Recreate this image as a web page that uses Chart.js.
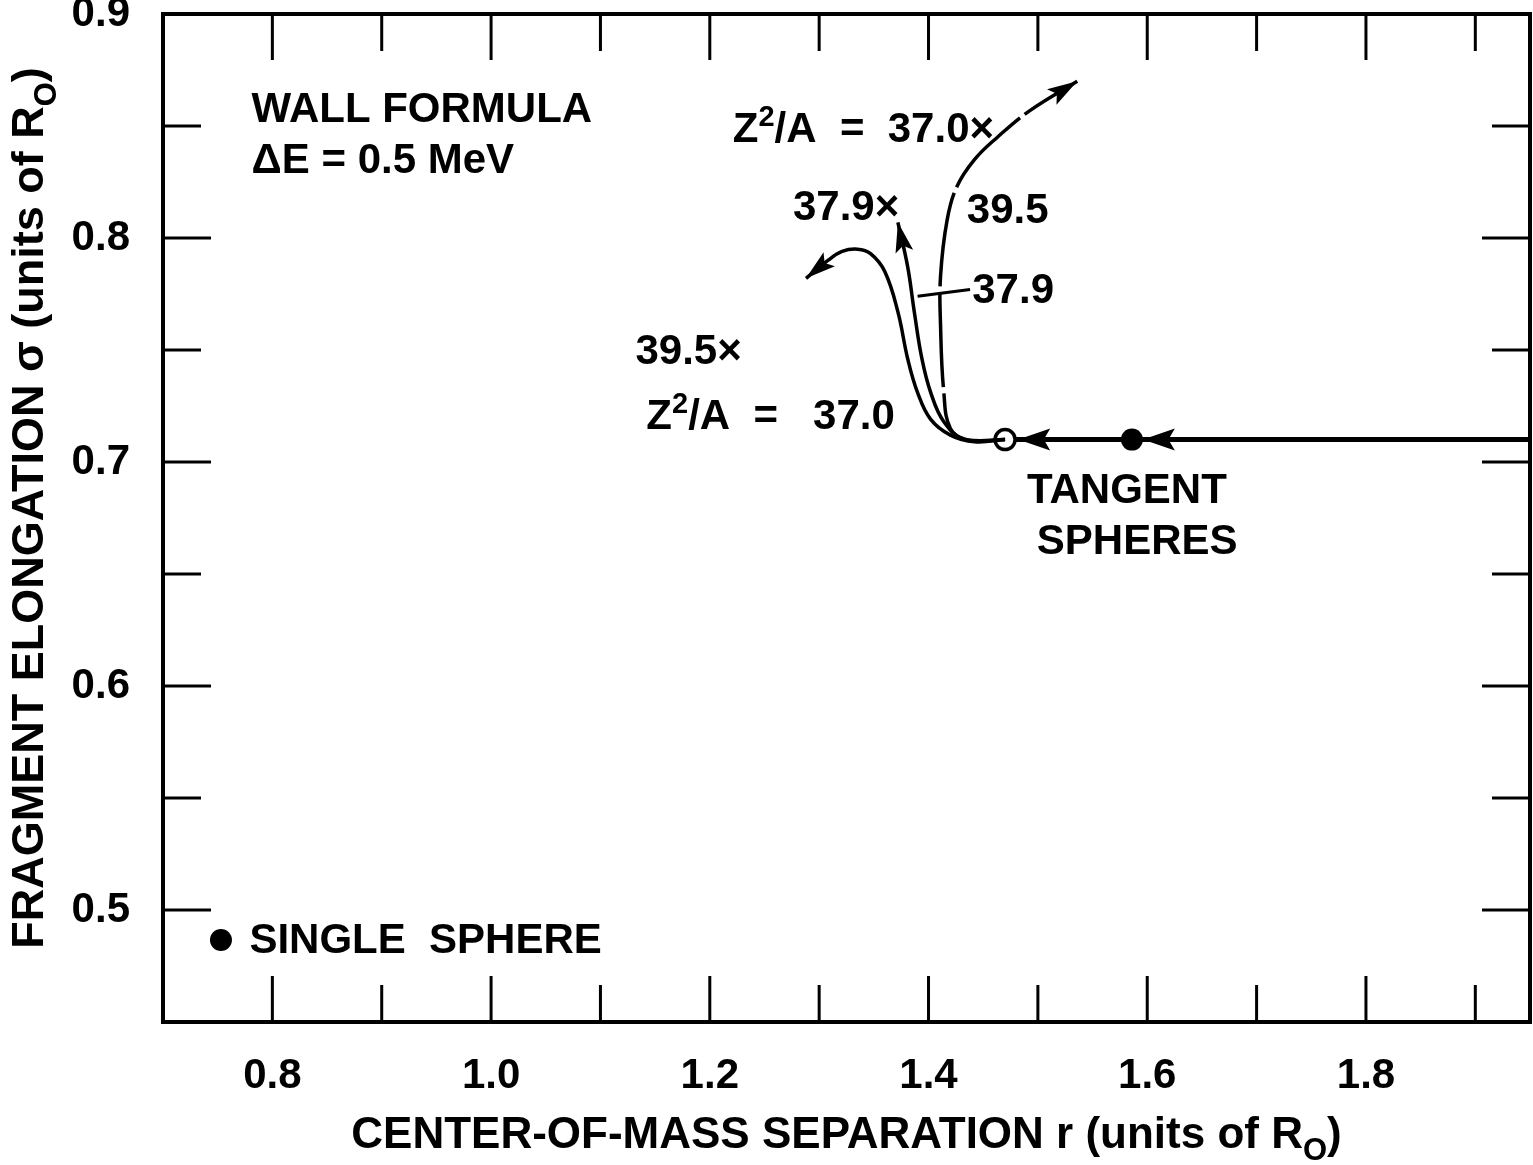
<!DOCTYPE html>
<html>
<head>
<meta charset="utf-8">
<script src="https://cdn.jsdelivr.net/npm/chart.js@4.4.0/dist/chart.umd.min.js"></script>
<style>
  html, body { margin: 0; padding: 0; background: #fff; }
</style>
</head>
<body>
<canvas id="chart" width="1533" height="1165"></canvas>
<script>
// axis ticks
const xMajorTicks = [0.8, 1.0, 1.2, 1.4, 1.6, 1.8];
const xMinorTicks = [0.9, 1.1, 1.3, 1.5, 1.7, 1.9];
const yMajorTicks = [0.5, 0.6, 0.7, 0.8];
const yMinorTicks = [0.55, 0.65, 0.75, 0.85];
const yLabelTicks = [0.5, 0.6, 0.7, 0.8, 0.9];

// trajectory coming in from large separation to the tangent point
const tangentX = [1.95, 1.586, 1.470];
const tangentY = [0.710, 0.710, 0.710];
const lineArrowX = [1.482, 1.596];

// the three trajectories after the tangent point, Z^2/A = 37.0, 37.9, 39.5
const path370X = [1.470, 1.442, 1.420, 1.402, 1.390, 1.381, 1.372, 1.360, 1.347, 1.335, 1.321, 1.308, 1.288];
const path370Y = [0.710, 0.709, 0.712, 0.719, 0.731, 0.746, 0.767, 0.785, 0.793, 0.795, 0.794, 0.790, 0.782];
const path379X = [1.470, 1.433, 1.414, 1.402, 1.394, 1.387, 1.381, 1.372];
const path379Y = [0.710, 0.710, 0.718, 0.731, 0.746, 0.767, 0.787, 0.807];
const path395X = [1.470, 1.435, 1.420, 1.414, 1.411, 1.411, 1.417, 1.426, 1.442, 1.463, 1.493, 1.536];
const path395Y = [0.710, 0.710, 0.715, 0.731, 0.761, 0.783, 0.808, 0.823, 0.835, 0.845, 0.857, 0.870];

// special shapes
const tangentSphere = { x: 1.586, y: 0.710 };
const scissionPoint = { x: 1.470, y: 0.710 };
const singleSphere = { x: 0.753, y: 0.4866 };

const FONT = "'Liberation Sans', Arial, sans-serif";

const toPts = (xs, ys) => xs.map((v, i) => ({ x: v, y: ys[i] }));

// text placed in data coordinates (left edge, middle)
const notes = [
  { x: 0.781, y: 0.857, parts: [{ t: 'WALL FORMULA' }] },
  { x: 0.781, y: 0.834, parts: [{ t: 'ΔE = 0.5 MeV' }] },
  { x: 1.221, y: 0.848, parts: [{ t: 'Z' }, { t: '2', sup: true }, { t: '/A  =  37.0×' }] },
  { x: 1.276, y: 0.813, parts: [{ t: '37.9×' }] },
  { x: 1.435, y: 0.812, parts: [{ t: '39.5' }] },
  { x: 1.440, y: 0.776, parts: [{ t: '37.9' }] },
  { x: 1.132, y: 0.749, parts: [{ t: '39.5×' }] },
  { x: 1.142, y: 0.720, parts: [{ t: 'Z' }, { t: '2', sup: true }, { t: '/A  =   37.0' }] },
  { x: 1.490, y: 0.687, parts: [{ t: 'TANGENT' }] },
  { x: 1.499, y: 0.664, parts: [{ t: 'SPHERES' }] },
  { x: 0.779, y: 0.486, parts: [{ t: 'SINGLE  SPHERE' }] }
];

function drawRich(ctx, parts, x, y, size, align) {
  const fontOf = p => 'bold ' + ((p.sup || p.sub) ? Math.round(size * 0.7) : size) + 'px ' + FONT;
  let total = 0;
  parts.forEach(p => { ctx.font = fontOf(p); total += ctx.measureText(p.t).width; });
  let cx = align === 'center' ? x - total / 2 : x;
  ctx.textAlign = 'left';
  ctx.textBaseline = 'middle';
  parts.forEach(p => {
    ctx.font = fontOf(p);
    const dy = p.sup ? -size * 0.3 : p.sub ? size * 0.36 : 0;
    ctx.fillText(p.t, cx, y + dy);
    cx += ctx.measureText(p.t).width;
  });
}

function arrowHead(ctx, tx, ty, ang, len, half) {
  ctx.save();
  ctx.translate(tx, ty);
  ctx.rotate(ang);
  ctx.beginPath();
  ctx.moveTo(0, 0);
  ctx.lineTo(-len, -half);
  ctx.lineTo(-len * 0.8, 0);
  ctx.lineTo(-len, half);
  ctx.closePath();
  ctx.fill();
  ctx.restore();
}

const frame = {
  id: 'frame',
  afterDraw(chart) {
    const { ctx, chartArea: a, scales: { x, y } } = chart;
    ctx.save();
    ctx.strokeStyle = '#000';
    ctx.fillStyle = '#000';
    ctx.lineWidth = 4;
    ctx.strokeRect(a.left, a.top, a.right - a.left, a.bottom - a.top);

    ctx.lineWidth = 3;
    ctx.beginPath();
    xMajorTicks.concat(xMinorTicks).forEach(v => {
      const px = x.getPixelForValue(v);
      const len = xMajorTicks.includes(v) ? 46 : 37;
      ctx.moveTo(px, a.top); ctx.lineTo(px, a.top + len);
      ctx.moveTo(px, a.bottom); ctx.lineTo(px, a.bottom - len);
    });
    yMajorTicks.concat(yMinorTicks).forEach(v => {
      const py = y.getPixelForValue(v);
      const len = yMajorTicks.includes(v) ? 48 : 38;
      ctx.moveTo(a.left, py); ctx.lineTo(a.left + len, py);
      ctx.moveTo(a.right, py); ctx.lineTo(a.right - len, py);
    });
    ctx.stroke();

    // arrowheads on the incoming line
    lineArrowX.forEach(v => {
      arrowHead(ctx, x.getPixelForValue(v), y.getPixelForValue(tangentY[0]), Math.PI, 32, 11);
    });
    // arrowheads at the ends of the curves
    [1, 2, 3].forEach(i => {
      const pts = chart.getDatasetMeta(i).data;
      const last = pts[pts.length - 1];
      const prev = pts[pts.length - 2];
      const useCp = last.cp1x !== undefined && Math.hypot(last.cp1x - last.x, last.cp1y - last.y) > 2;
      const bx = useCp ? last.cp1x : prev.x;
      const by = useCp ? last.cp1y : prev.y;
      arrowHead(ctx, last.x, last.y, Math.atan2(last.y - by, last.x - bx), 30, 9);
    });

    // leader for the 37.9 label
    ctx.lineWidth = 3;
    ctx.beginPath();
    ctx.moveTo(x.getPixelForValue(1.390), y.getPixelForValue(0.774));
    ctx.lineTo(x.getPixelForValue(1.438), y.getPixelForValue(0.777));
    ctx.stroke();

    notes.forEach(n => {
      drawRich(ctx, n.parts, x.getPixelForValue(n.x), y.getPixelForValue(n.y), 42, 'left');
    });

    // axis titles
    drawRich(ctx, [{ t: 'CENTER-OF-MASS SEPARATION r (units of R' }, { t: 'O', sub: true }, { t: ')' }],
      (a.left + a.right) / 2, 1136, 44, 'center');
    ctx.save();
    ctx.translate(31, 508);
    ctx.rotate(-Math.PI / 2);
    drawRich(ctx, [{ t: 'FRAGMENT ELONGATION σ (units of R' }, { t: 'O', sub: true }, { t: ')' }], 0, 0, 45, 'center');
    ctx.restore();
    ctx.restore();
  }
};

const black = '#000';

new Chart(document.getElementById('chart'), {
  type: 'scatter',
  data: {
    datasets: [
      { data: [tangentSphere, singleSphere], pointRadius: 11, backgroundColor: black, borderColor: black, borderWidth: 0, showLine: false },
      { data: toPts(path370X, path370Y), showLine: true, tension: 0.4, borderColor: black, borderWidth: 3.5, pointRadius: 0 },
      { data: toPts(path379X, path379Y), showLine: true, tension: 0.4, borderColor: black, borderWidth: 3.5, pointRadius: 0 },
      { data: toPts(path395X, path395Y), showLine: true, tension: 0.4, borderColor: black, borderWidth: 3.5, pointRadius: 0, borderDash: [95, 6] },
      { data: [scissionPoint], pointRadius: 10, backgroundColor: '#fff', borderColor: black, borderWidth: 3.5, showLine: false },
      { data: toPts(tangentX, tangentY), showLine: true, tension: 0, borderColor: black, borderWidth: 5, pointRadius: 0 }
    ]
  },
  options: {
    responsive: false,
    animation: false,
    devicePixelRatio: 1,
    layout: { autoPadding: false, padding: { top: 14, right: 3, left: 0, bottom: 0 } },
    plugins: { legend: { display: false }, tooltip: { enabled: false } },
    scales: {
      x: {
        type: 'linear', min: 0.7, max: 1.95,
        grid: { display: false, drawTicks: false },
        border: { display: false },
        afterFit: s => { s.height = 143; s.paddingLeft = 0; s.paddingRight = 0; },
        afterBuildTicks: s => { s.ticks = xMajorTicks.map(v => ({ value: v })); },
        ticks: { color: black, padding: 29, font: { family: FONT, size: 42, weight: 'bold' }, callback: v => v.toFixed(1) }
      },
      y: {
        type: 'linear', min: 0.45, max: 0.9,
        grid: { display: false, drawTicks: false },
        border: { display: false },
        afterFit: s => { s.width = 163; s.paddingTop = 0; s.paddingBottom = 0; },
        afterBuildTicks: s => { s.ticks = yLabelTicks.map(v => ({ value: v })); },
        ticks: { color: black, padding: 33, font: { family: FONT, size: 42, weight: 'bold' }, callback: v => v.toFixed(1) }
      }
    }
  },
  plugins: [frame]
});
</script>
</body>
</html>
